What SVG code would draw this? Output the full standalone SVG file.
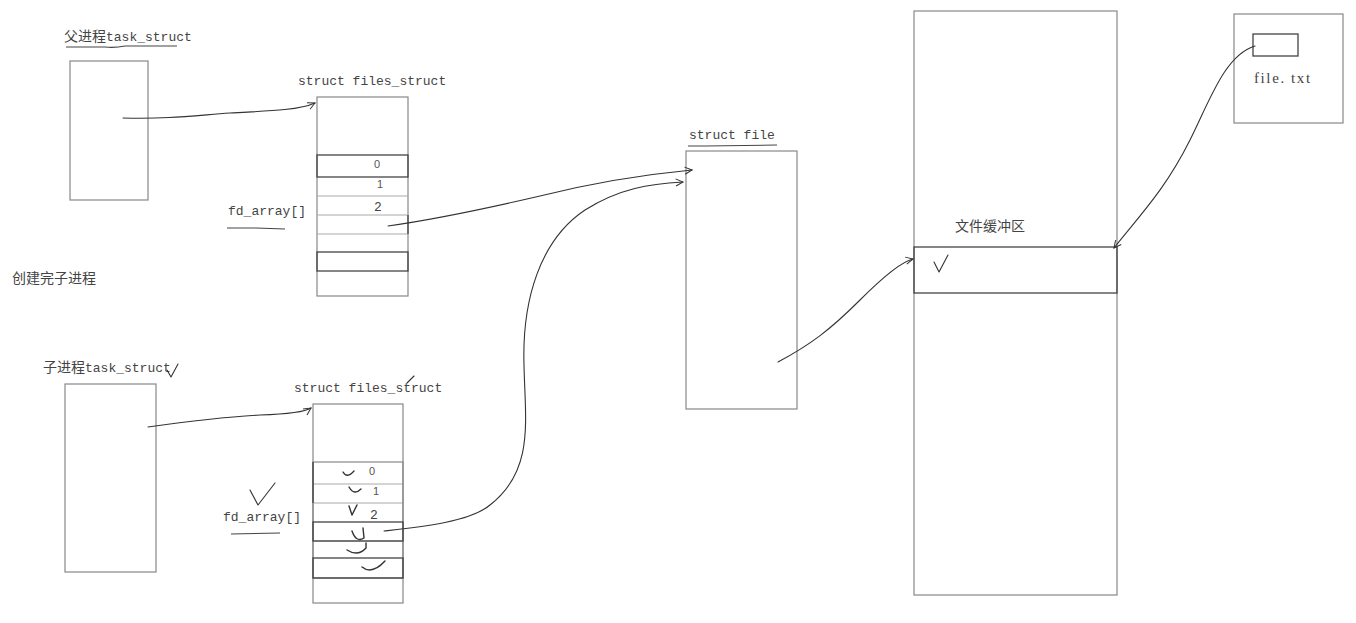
<svg xmlns="http://www.w3.org/2000/svg" width="1356" height="623" viewBox="0 0 1356 623">
<style>
.box{fill:none;stroke:#888;stroke-width:1.2}
.dark{fill:none;stroke:#444;stroke-width:1.3}
.row{stroke:#aaa;stroke-width:1.2}
.ink{fill:none;stroke:#333;stroke-width:1.1;stroke-linecap:round;stroke-linejoin:round}
.chk{fill:none;stroke:#333;stroke-width:1.4;stroke-linecap:round;stroke-linejoin:round}
.ul{fill:none;stroke:#444;stroke-width:1.1}
.t{font-family:"Liberation Mono","Noto Sans CJK SC",monospace;font-size:13px;fill:#444}
.cj{font-family:"Noto Sans CJK SC",sans-serif;font-size:14px}
.hand{font-family:"Liberation Sans",sans-serif;font-size:11px;fill:#555}
</style>
<defs>
<marker id="ah" viewBox="0 0 10 10" refX="9" refY="5" markerWidth="9" markerHeight="9" orient="auto" markerUnits="userSpaceOnUse">
<path d="M1,1 L9,5 L1,9" fill="none" stroke="#333" stroke-width="1.1"/>
</marker>
</defs>
<rect width="1356" height="623" fill="#fff"/>

<g id="parent-task">
<text class="t" x="64" y="41"><tspan class="cj">父进程</tspan>task_struct</text>
<path class="ul" d="M66,47 L105,47 Q115,48 125,46 L177,46"/>
<rect class="box" x="70" y="61" width="78" height="139"/>
</g>

<g id="create-label">
<text class="t" x="12" y="283"><tspan class="cj">创建完子进程</tspan></text>
</g>

<g id="parent-files">
<text class="t" x="298" y="85">struct files_struct</text>
<rect class="box" x="317" y="97" width="91" height="199"/>
<line class="row" x1="317" y1="196" x2="408" y2="196"/>
<line class="row" x1="317" y1="215" x2="408" y2="215"/>
<line class="row" x1="317" y1="234" x2="408" y2="234"/>
<rect class="dark" x="317" y="155" width="91" height="22"/>
<rect class="dark" x="317" y="252" width="91" height="19"/>
<line class="dark" x1="408" y1="215" x2="408" y2="234"/>
<text class="hand" x="374" y="168">0</text>
<text class="hand" x="377" y="188">1</text>
<text class="t" x="374" y="211">2</text>
<text class="t" x="228" y="215">fd_array[]</text>
<path class="ul" d="M227,228 L256,228 L285,229"/>
</g>

<g id="child-task">
<text class="t" x="43" y="372"><tspan class="cj">子进程</tspan>task_struct</text>
<path class="ink" d="M167,370 L171,377 L178,364"/>
<rect class="box" x="65" y="384" width="91" height="188"/>
</g>

<g id="child-files">
<text class="t" x="294" y="392">struct files_struct</text>
<path class="ink" d="M407,383 L414,376"/>
<rect class="box" x="313" y="404" width="90" height="199"/>
<line class="row" x1="313" y1="484" x2="403" y2="484"/>
<line class="row" x1="313" y1="503" x2="403" y2="503"/>
<line class="row" x1="313" y1="541" x2="403" y2="541"/>
<rect class="box" x="313" y="462" width="90" height="116"/>
<rect class="dark" x="313" y="522" width="90" height="19"/>
<rect class="dark" x="313" y="558" width="90" height="20"/>
<line class="dark" x1="313" y1="462" x2="313" y2="503"/>
<text class="hand" x="369" y="475">0</text>
<text class="hand" x="373" y="495">1</text>
<text class="t" x="370" y="519">2</text>
<path class="chk" d="M343,472 Q347,479 354,471"/>
<path class="chk" d="M349,487 Q354,496 361,489"/>
<path class="chk" d="M349,506 L352,515 L357,505"/>
<path class="chk" d="M352,531 Q356,543 364,538 L363,528"/>
<path class="chk" d="M347,550 Q358,557 366,548 L366,543"/>
<path class="chk" d="M362,567 Q372,575 385,561"/>
<text class="t" x="223" y="521">fd_array[]</text>
<path class="ink" d="M250,490 L258,505 L275,483"/>
<path class="ul" d="M231,534 L280,533"/>
</g>

<g id="struct-file">
<text class="t" x="689" y="139">struct file</text>
<path class="ul" d="M688,146 L705,146 L777,145"/>
<rect class="box" x="686" y="151" width="111" height="258"/>
</g>

<g id="kernel-buffer">
<rect class="box" x="914" y="11" width="203" height="584"/>
<text class="t" x="955" y="231"><tspan class="cj">文件缓冲区</tspan></text>
<rect class="dark" x="914" y="247" width="203" height="46"/>
<path class="ink" d="M934,262 L939,272 L948,255"/>
</g>

<g id="file-txt">
<rect class="box" x="1234" y="14" width="109" height="109"/>
<rect class="dark" x="1253" y="34" width="45" height="22"/>
<text font-family="Liberation Serif,serif" font-size="15" letter-spacing="1.6" fill="#444" x="1254" y="83">file. txt</text>
</g>

<g id="connectors">
<path class="ink" marker-end="url(#ah)" d="M123,118 C170,119 190,116 230,113 C270,111 300,110 315,103"/>
<path class="ink" marker-end="url(#ah)" d="M148,427 C190,421 220,417 260,415 C290,414 305,412 311,408"/>
<path class="ink" marker-end="url(#ah)" d="M388,226 C430,220 480,210 540,196 C600,181 650,174 692,170"/>
<path class="ink" marker-end="url(#ah)" d="M384,531 C420,527 470,522 490,505 C535,470 525,420 524,365 C522,300 540,240 585,210 C620,188 650,184 683,182"/>
<path class="ink" marker-end="url(#ah)" d="M778,362 C810,345 830,330 860,300 C880,280 900,262 913,259"/>
<path class="ink" marker-end="url(#ah)" d="M1255,46 C1225,55 1210,100 1190,140 C1165,190 1140,215 1114,248"/>
</g>
</svg>
